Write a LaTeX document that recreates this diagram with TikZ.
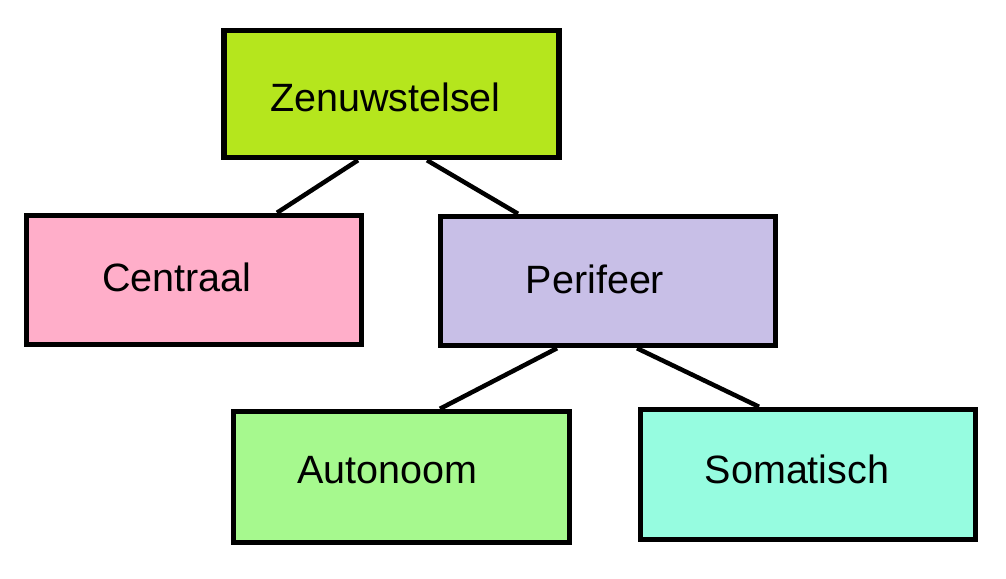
\documentclass[tikz,border=0pt]{standalone}
\usepackage{fontspec}
\setmainfont{Liberation Sans}
\usetikzlibrary{positioning, calc}
\definecolor{zenkleur}{RGB}{181,230,29}
\definecolor{cenkleur}{RGB}{255,174,201}
\definecolor{perkleur}{RGB}{200,191,231}
\definecolor{autkleur}{RGB}{166,249,142}
\definecolor{somkleur}{RGB}{150,252,224}
\tikzset{
  blok/.style={draw=black, line width=5.5pt, minimum width=335pt, minimum height=129pt, inner sep=0pt},
  tekst/.style={font=\fontsize{39.5}{47}\selectfont, inner sep=0pt},
  tak/.style={line width=4.5pt}
}
\begin{document}
\begin{tikzpicture}[x=1pt,y=-1pt]

            % Achtergrond en afmetingen
            \useasboundingbox[fill=white] (0,0) rectangle (1006,578);

            % Blokken
            \node[blok, fill=zenkleur, minimum height=127pt] (zen) at (391.5,94) {};
            \node[blok, fill=cenkleur, minimum height=129pt] (cen) at (194,280) {};
            \node[blok, fill=perkleur, minimum height=129pt] (per) at (608,281) {};
            \node[blok, fill=autkleur, minimum width=336pt, minimum height=131pt] (aut) at (401.5,477) {};
            \node[blok, fill=somkleur, minimum height=130pt] (som) at (808,474.5) {};

            % Teksten
            \node[tekst] (zentekst) at ($(zen.center)+(-6,3)$) {Zenuwstelsel};
            \node[tekst] (centekst) at ($(cen.center)+(-17,-3)$) {Centraal};
            \node[tekst] (pertekst) at ($(per.center)+(-13,-2)$) {Perifeer};
            \node[tekst] (auttekst) at ($(aut.center)+(-14,-7)$) {Autonoom};
            \node[tekst] (somtekst) at ($(som.center)+(-11,-5)$) {Somatisch};

            % Verbindingen
            \draw[tak] ([xshift=-33.5pt]zen.south) -- ([xshift=83pt]cen.north);
            \draw[tak] ([xshift=35.5pt]zen.south) -- ([xshift=-90pt]per.north);
            \draw[tak] ([xshift=-51pt]per.south) -- ([xshift=38.5pt]aut.north);
            \draw[tak] ([xshift=29pt]per.south) -- ([xshift=-49pt]som.north);

\end{tikzpicture}
\end{document}
